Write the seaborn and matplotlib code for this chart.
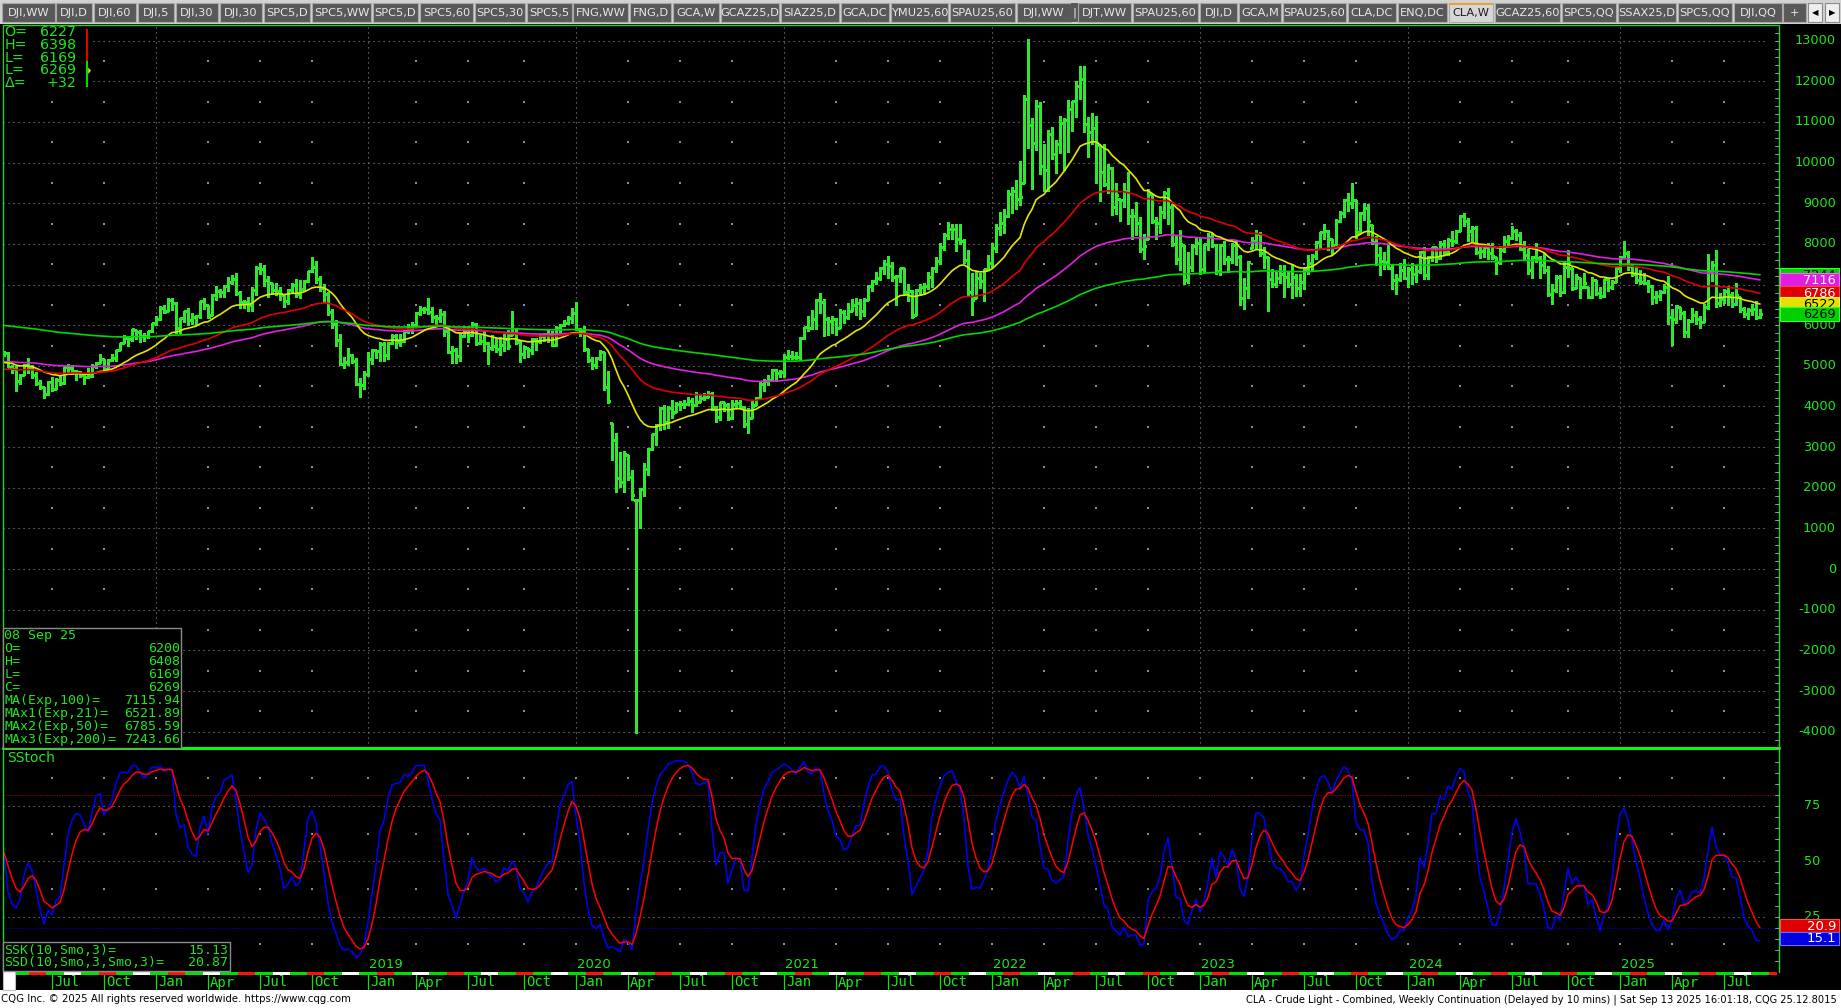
import numpy as np
import pandas as pd
import matplotlib
matplotlib.use("Agg")
import matplotlib.pyplot as plt
from matplotlib.patches import Rectangle, Polygon
import seaborn as sns

# ---------------- data: CLA weekly bars, US cents per barrel ----------------
c17 = [5318,4962,4933,4622,4784,5033,4980,4766,4583,4474,4301,4604,4423,4654,4577,4971,4958,4882,4851,4787,
       4729,4748,4989,5066,5167,4929,5145,5184,5390,5564,5674,5655,5895,5836,5736,5730,5847,6042]
h17 = [5376,5330,5020,4990,4800,5050,5200,5020,4840,4640,4490,4620,4730,4690,4750,4980,5040,5020,4900,4880,
       4790,4940,5050,5100,5290,5170,5160,5280,5390,5570,5770,5720,5900,5890,5880,5800,5860,6050]
l17 = [5250,4960,4820,4376,4550,4770,4820,4700,4520,4420,4205,4290,4380,4420,4540,4560,4840,4800,4650,4720,
       4560,4700,4720,4950,5060,4910,4930,5130,5130,5380,5560,5490,5600,5670,5580,5610,5690,5840]
c18 = [6144,6430,6337,6614,6545,5920,6168,6355,6125,6204,6234,6588,6494,6206,6739,6838,6810,6972,7070,7128,
       6788,6581,6574,6506,6858,7415,7380,7101,7046,6869,6849,6763,6591,6872,6980,6775,6899,7078,7325,7434,
       7134,6912,6759,6314,6019,5646,5042,5093,5261,5120,4559,4533]
h18 = [6220,6480,6490,6660,6660,6570,6180,6360,6420,6300,6250,6600,6660,6500,6760,6960,6900,6990,7190,7230,
       7280,6830,6630,6700,6930,7450,7530,7470,7200,7050,7040,6950,6750,6900,7040,7140,7100,7100,7340,7690,
       7590,7210,7010,6810,6390,6130,5780,5230,5450,5300,5190,4700]
l18 = [6010,6130,6290,6350,6370,5810,5820,6080,6010,6020,6010,6180,6390,6180,6240,6630,6700,6690,6840,7010,
       6740,6420,6420,6360,6360,6740,7260,6960,6700,6770,6750,6620,6440,6520,6780,6690,6660,6830,7060,7300,
       7040,6850,6570,6260,5930,5480,5020,4940,5010,5060,4540,4236]
c19 = [4796,5159,5380,5369,5526,5272,5559,5726,5580,5607,5852,5904,6014,6308,6389,6400,6330,6194,6166,6276,
       5863,5350,5399,5251,5743,5847,5751,6021,5563,5620,5566,5450,5487,5417,5510,5652,5485,5809,5591,5281,
       5470,5378,5666,5620,5724,5772,5777,5517,5920,6007,6044,6172]
h19 = [4880,5330,5420,5400,5580,5580,5580,5780,5790,5790,5890,6040,6070,6320,6480,6440,6660,6440,6260,6390,
       6350,5980,5480,5430,5800,5990,5990,6090,6050,5750,5880,5590,5750,5690,5700,5780,5880,6338,5920,5630,
       5490,5450,5690,5690,5790,5800,5870,5850,5980,6030,6140,6230]
l19 = [4440,4760,5040,5190,5130,5120,5180,5530,5450,5500,5590,5810,5810,6010,6260,6300,6280,6080,6000,6070,
       5730,5310,5060,5070,5130,5720,5580,5730,5520,5540,5360,5050,5390,5340,5270,5360,5420,5750,5540,5099,
       5190,5230,5290,5390,5550,5600,5590,5480,5480,5800,5990,6020]
c20 = [6305,5904,5854,5419,5156,5032,5205,5338,4476,4128,3173,2243,2151,2834,2276,1827,1694,1978,2474,2943,
       3325,3549,3955,3626,3975,3849,4065,4055,4059,4129,4027,4122,4201,4234,4297,3977,3733,4111,4025,3705,
       4060,4088,3985,3579,3714,4013,4215,4553,4626,4657,4910,4823]
h20 = [6420,6565,5930,5970,5420,5220,5230,5400,5330,4870,3600,3350,2890,2910,2810,2440,1700,1990,2600,2970,
       3330,3580,3990,4040,4020,4160,4120,4140,4150,4240,4200,4350,4300,4340,4380,4350,4000,4120,4110,4090,
       4160,4150,4170,4000,3970,4170,4240,4630,4670,4770,4930,4930]
l20 = [6060,5870,5740,5370,5090,4930,4940,5150,4400,4090,2680,1900,2020,1900,2200,1700,-4032,1007,1790,2310,
       2930,3060,3430,3440,3470,3710,3870,3920,3960,4030,3870,4000,4120,4150,4240,3920,3610,3680,3900,3660,
       3700,3960,3960,3490,3360,3720,4030,4200,4390,4520,4620,4620]
c21 = [4852,5224,5236,5227,5220,5685,5947,5924,6150,6609,6561,6142,6097,6145,5932,6313,6214,6358,6490,6537,
       6358,6632,6962,7091,7164,7405,7516,7456,7181,7207,7395,6828,6844,6232,6874,6929,6972,7197,7398,7588,
       7935,8228,8376,8357,8127,8079,7610,6815,6626,7167,7086,7379]
h21 = [4890,5280,5390,5360,5330,5700,5950,6230,6380,6640,6798,6640,6190,6230,6180,6400,6370,6550,6640,6670,
       6640,6670,6980,7100,7299,7420,7600,7698,7550,7240,7400,7400,7010,6870,6900,7010,7030,7310,7420,7670,
       8010,8270,8540,8500,8490,8497,8120,7840,7290,7330,7290,7390]
l21 = [4730,4720,5180,5180,5160,5180,5670,5860,5910,5910,6310,5730,5760,5800,5760,5920,6060,6160,6350,6240,
       6160,6220,6610,6830,7010,7100,7260,7160,7080,6500,7060,6760,6600,6170,6250,6740,6760,6890,6930,7310,
       7510,7840,8110,8110,7830,8000,7530,6740,6243,6680,6920,6600]
c22 = [7521,7890,8382,8514,8682,9231,9310,9107,9159,11568,10933,10470,11390,9927,9826,10695,10207,10469,10977,11049,
       11323,11507,11887,12067,10956,10762,10843,10479,9759,9470,9862,8901,9209,9077,9306,8687,8679,8511,7874,7949,
       9264,8561,8505,8790,9261,8896,8008,7628,7998,7102,7429,7956]
h22 = [7730,8020,8480,8790,8850,9320,9400,9580,10050,11660,13050,11090,11540,11480,10460,10800,10880,10550,11140,11100,
       11550,11510,11998,12370,12370,11110,11230,11150,10440,10450,9970,9900,9490,9100,9510,9760,8850,9030,8670,8250,
       9360,9230,8670,8940,9290,9370,8970,8220,8330,7980,7790,8000]
l22 = [7360,7430,7800,8230,8280,8660,8770,8870,8950,9500,10350,9350,10300,9720,9300,9290,10080,9740,10230,9820,
       10260,10770,11130,11570,10750,10150,10460,9510,9060,9420,9260,8700,8730,8570,8910,8500,8120,8210,7800,7630,
       8130,8510,8130,8260,8630,8490,7940,7510,7360,7010,7030,7330]
c23 = [8026,7377,7986,8164,7968,7339,7972,7634,7632,7968,7668,6674,6926,7567,8070,8252,7787,7678,7134,7004,
       7169,7267,7174,7017,7178,6916,7064,7386,7542,7707,8058,8282,8319,8125,7983,8555,8751,9077,9003,9079,
       8279,8769,8875,8554,8051,7717,7589,7554,7407,7123,7143,7356]
h23 = [8150,8150,8000,8260,8270,7990,8000,8080,7700,8010,8090,7720,7170,7570,8180,8350,8290,7920,7690,7390,
       7320,7470,7470,7330,7510,7260,7270,7400,7730,7750,8060,8300,8490,8340,8110,8610,8810,9110,9240,9503,
       9090,8780,9000,8970,8460,8190,7930,7800,7970,7470,7270,7530]
l23 = [7760,7250,7300,7860,7930,7250,7230,7510,7300,7540,7490,6490,6410,6680,7900,7910,7700,7400,6360,6930,
       6940,7040,6700,6940,6680,6710,6710,6900,7250,7350,7630,7880,8120,7860,7760,7950,8550,8660,8820,8890,
       8150,8290,8580,8210,7990,7490,7240,7380,7380,6890,6770,7090]
c24 = [7165,7381,7268,7341,7801,7228,7684,7919,7649,7997,7801,8104,8063,8317,8691,8566,8314,8385,7811,7826,
       7923,7772,7699,7553,7845,8073,8154,8316,8221,7863,7716,7352,7684,7665,7483,7355,6767,6865,7192,6818,
       7438,7556,6922,7178,6949,7038,6702,7124,6800,6720,7129,6946,7060]
h24 = [7620,7440,7520,7490,7820,7930,7710,7930,7930,8060,8090,8150,8310,8330,8700,8767,8630,8450,8450,7940,
       7960,8010,8020,7690,7940,8200,8220,8440,8360,8300,8070,7880,7700,8020,7700,7770,7450,7010,7240,7240,
       7560,7850,7400,7260,7150,7280,6950,7190,7100,6950,7140,7150,7100]
l24 = [7140,6930,7010,7060,7280,7140,7140,7590,7560,7630,7750,7720,7960,8030,8320,8440,8070,8060,7760,7660,
       7670,7620,7640,7250,7510,7790,7960,8130,8090,7850,7630,7260,7170,7550,7150,7280,6720,6530,6820,6720,
       6790,7180,6870,6920,6680,6910,6680,6680,6740,6660,6700,6850,6890]
c25 = [7396,7657,7788,7466,7253,7100,7074,7040,6976,6704,6718,6828,6936,6199,6150,6468,6302,5829,6102,6249,
       6153,6079,6458,7298,7493,6552,6650,6845,6734,6516,6733,6388,6280,6366,6401,6203,6269]
h25 = [7440,7700,8080,7830,7480,7460,7350,7280,7110,6990,6840,6860,7020,7200,6390,6490,6450,6340,6160,6420,
       6340,6230,6520,7762,7570,7840,6790,6890,6970,6820,7050,6700,6440,6430,6520,6600,6408]
l25 = [7060,7310,7680,7350,7200,7030,7010,7020,6810,6520,6540,6610,6800,6040,5512,6060,6150,5720,5700,6070,
       6040,5940,6080,6410,7090,6440,6470,6540,6500,6460,6490,6320,6190,6150,6250,6150,6169]

last_week = "2025-09-08"
last_open = 6200
ma_periods = [100, 21, 50, 200]            # MA, MAx1, MAx2, MAx3
ma_seed = [5100, 5060, 4900, 6000]         # EMA level just before first bar (read at left edge)
tag_values = [7244, 7116, 6786, 6522, 6269]
stoch_tags = [20.87, 15.13]
quote_box = [("O=", "6227"), ("H=", "6398"), ("L=", "6169"), ("L=", "6269"), ("Δ=", "+32")]
data_box = [("08 Sep 25", ""), ("O=", "6200"), ("H=", "6408"), ("L=", "6169"), ("C=", "6269"),
            ("MA(Exp,100)=", "7115.94"), ("MAx1(Exp,21)=", "6521.89"),
            ("MAx2(Exp,50)=", "6785.59"), ("MAx3(Exp,200)=", "7243.66")]
stoch_box = [("SSK(10,Smo,3)=", "15.13"), ("SSD(10,Smo,3,Smo,3)=", "20.87")]
footer_left = "CQG Inc. © 2025 All rights reserved worldwide. https://www.cqg.com"
footer_right = ("CLA - Crude Light - Combined, Weekly Continuation (Delayed by 10 mins) | "
                "Sat Sep 13 2025 16:01:18, CQG 25.12.8015")

# UI tab strip (label, left px, right px)
tabs = [("DJI,WW",2,55),("DJI,D",56,92),("DJI,60",94,136),("DJI,5",138,174),("DJI,30",176,218),
        ("DJI,30",220,262),("SPC5,D",264,310),("SPC5,WW",312,371),("SPC5,D",373,418),("SPC5,60",420,473),
        ("SPC5,30",475,525),("SPC5,5",527,572),("FNG,WW",573,628),("FNG,D",630,671),("GCA,W",673,719),
        ("GCAZ25,D",721,779),("SIAZ25,D",781,839),("GCA,DC",841,889),("YMU25,60",891,948),
        ("SPAU25,60",950,1015),("DJI,WW",1017,1071),("DJT,WW",1078,1131),("SPAU25,60",1133,1198),
        ("DJI,D",1200,1237),("GCA,M",1239,1281),("SPAU25,60",1283,1346),("CLA,DC",1348,1396),
        ("ENQ,DC",1398,1447),("CLA,W",1449,1493),("GCAZ25,60",1495,1560),("SPC5,QQ",1562,1616),
        ("SSAX25,D",1618,1676),("SPC5,QQ",1678,1732),("DJI,QQ",1734,1782),("+",1783,1806)]
active_tab = "CLA,W"

# ---------------- frame ----------------
closes = np.array(c17 + c18 + c19 + c20 + c21 + c22 + c23 + c24 + c25, float)
highs = np.array(h17 + h18 + h19 + h20 + h21 + h22 + h23 + h24 + h25, float)
lows = np.array(l17 + l18 + l19 + l20 + l21 + l22 + l23 + l24 + l25, float)
n = len(closes)
dates = pd.date_range(end=last_week, periods=n, freq="W-MON")
opens = np.r_[closes[0], closes[:-1]]
opens[-1] = last_open
opens = np.clip(opens, lows, highs)

REF = pd.Timestamp("2018-01-01")
df = pd.DataFrame({"date": dates, "open": opens, "high": highs, "low": lows, "close": closes})
df["wk"] = (df["date"] - REF).dt.days / 7.0


def ema(vals, period, seed):
    a = 2.0 / (period + 1)
    out, e = [], seed
    for v in vals:
        e = e + a * (v - e)
        out.append(e)
    return np.array(out)


ma_names = []
for p, s in zip(ma_periods, ma_seed):
    nm = f"ema{p}"
    df[nm] = ema(df["close"].values, p, s)
    ma_names.append(nm)

hh = df["high"].rolling(10, min_periods=1).max()
ll = df["low"].rolling(10, min_periods=1).min()
raw = 100 * (df["close"] - ll) / (hh - ll)
df["ssk"] = raw.ewm(alpha=1 / 3, adjust=False).mean()
df["ssd"] = df["ssk"].ewm(alpha=1 / 3, adjust=False).mean()

# ---------------- styling ----------------
sns.set_style("dark", {"axes.facecolor": "black", "figure.facecolor": "black"})
plt.rcParams["font.family"] = ["DejaVu Sans"]

GTXT = "#1ee61e"
BAR = "#2aea2a"
GRID = "#8c8c8c"
MA_COL = {"ema100": "#e41ee4", "ema21": "#e6e600", "ema50": "#e00000", "ema200": "#00d800"}

W, H = 1841, 1008
fig = plt.figure(figsize=(W / 100, H / 100), dpi=100)
fig.patch.set_facecolor("black")

L_PX, R_PX = 3, 1779
MAIN_T, MAIN_B = 25, 748
ST_T, ST_B = 750.5, 972
X0_PX, PX_WK = 156, 4.0
Y_TOP, Y_BOT = 13385, -4401

ax = fig.add_axes([L_PX / W, 1 - MAIN_B / H, (R_PX - L_PX) / W, (MAIN_B - MAIN_T) / H])
st = fig.add_axes([L_PX / W, 1 - ST_B / H, (R_PX - L_PX) / W, (ST_B - ST_T) / H])
xl = ((L_PX - X0_PX) / PX_WK, (R_PX - X0_PX) / PX_WK)


def px_of_date(d):
    return X0_PX + PX_WK * (pd.Timestamp(d) - REF).days / 7.0


def py_main(v):
    return MAIN_T + (Y_TOP - np.asarray(v, float)) / (Y_TOP - Y_BOT) * (MAIN_B - MAIN_T)


def py_st(v):
    return ST_B - np.asarray(v, float) / 100.0 * (ST_B - ST_T)


# first Monday of each quarter month
qmonths = pd.date_range("2017-07-01", "2025-07-01", freq="QS-JAN")
qmondays = [d + pd.Timedelta(days=(7 - d.weekday()) % 7) for d in qmonths]
q_wk = np.array([(d - REF).days / 7.0 for d in qmondays])
is_jan = np.array([d.month == 1 for d in qmondays])

# ---- main panel ----
dots = (0, (1, 3.5))
ax.hlines(np.arange(-4000, 13001, 1000), xl[0], xl[1] - 2.8, colors=GRID, linestyles=dots, lw=0.8, zorder=1)
ax.vlines(q_wk[is_jan], Y_BOT, Y_TOP, colors=GRID, linestyles=dots, lw=0.8, zorder=1)
qx = q_wk[~is_jan]
hv = np.arange(-3500, 13001, 1000)
QX, HV = np.meshgrid(qx, hv)
ax.scatter(QX.ravel(), HV.ravel(), s=0.6, marker="s", color=GRID, linewidths=0, zorder=1)

ax.vlines(df["wk"], df["low"], df["high"], colors=BAR, lw=0.8, antialiased=False, zorder=3)
ax.hlines(df["open"], df["wk"] - 0.45, df["wk"], colors=BAR, lw=0.8, antialiased=False, zorder=3)
ax.hlines(df["close"], df["wk"], df["wk"] + 0.45, colors=BAR, lw=0.8, antialiased=False, zorder=3)

for nm in ma_names:
    sns.lineplot(data=df, x="wk", y=nm, ax=ax, color=MA_COL[nm], lw=1.2,
                 estimator=None, sort=False, legend=False, zorder=4)
ax.set_xlim(*xl)
ax.set_ylim(Y_BOT, Y_TOP)
ax.axis("off")

# ---- stochastic panel ----
st.hlines([25, 50, 75], xl[0], xl[1] - 2.8, colors=GRID, linestyles=dots, lw=0.8, zorder=1)
st.hlines([80], xl[0], xl[1], colors="#b00000", linestyles=(0, (1, 1.5)), lw=0.7, zorder=1)
st.hlines([20], xl[0], xl[1], colors="#0000d0", linestyles=(0, (1, 1.5)), lw=0.7, zorder=1)
QX2, HV2 = np.meshgrid(q_wk, [12.5, 37.5, 62.5, 87.5])
st.scatter(QX2.ravel(), HV2.ravel(), s=0.6, marker="s", color=GRID, linewidths=0, zorder=1)
sns.lineplot(data=df, x="wk", y="ssk", ax=st, color="#0000ff", lw=1.1, estimator=None, sort=False, legend=False, zorder=3)
sns.lineplot(data=df, x="wk", y="ssd", ax=st, color="#ff0000", lw=1.1, estimator=None, sort=False, legend=False, zorder=4)
st.set_xlim(*xl)
st.set_ylim(0, 100)
st.axis("off")

# ---------------- overlay (pixel coordinates) ----------------
ov = fig.add_axes([0, 0, 1, 1], zorder=10)
ov.set_xlim(0, W)
ov.set_ylim(H, 0)
ov.axis("off")
ov.patch.set_alpha(0)

LINE_G = "#10e010"
ov.plot([L_PX, R_PX], [MAIN_T, MAIN_T], color=LINE_G, lw=1.0)
ov.plot([L_PX, L_PX], [MAIN_T, ST_B], color=LINE_G, lw=1.0)
ov.plot([R_PX, R_PX], [MAIN_T, ST_B], color=LINE_G, lw=1.0)
ov.plot([L_PX, R_PX], [MAIN_B, MAIN_B], color="#00ff00", lw=2.2)

# axis minor ticks
for v in np.arange(-4400, 13400, 200):
    y = float(py_main(v))
    ov.plot([R_PX - 3.5, R_PX], [y, y], color="#9a9a9a", lw=0.7)
for v in np.arange(5, 100, 5):
    y = float(py_st(v))
    ov.plot([R_PX - 3.5, R_PX], [y, y], color="#9a9a9a", lw=0.7)

# right axis labels
for v in range(-4000, 13001, 1000):
    ov.text(1836, float(py_main(v)), f"{v}", ha="right", va="center", color=GTXT, fontsize=9.3, zorder=3)
for v in (75, 50, 25):
    ov.text(1820, float(py_st(v)), f"{v}", ha="right", va="center", color=GTXT, fontsize=9.3, zorder=3)

# price tags (stacked like the reference; later tags sit on top)
tag_style = [("#00d000", "#30ff30", "black"), ("#e01ee0", "#ff60ff", "white"),
             ("#e00000", "#ff4040", "white"), ("#e6e000", "#fff040", "black"), ("#00d000", "#30ff30", "black")]
for i, (val, (fc, ec, tc)) in enumerate(zip(tag_values, tag_style)):
    y = float(py_main(val))
    z = 6 + 2 * i
    ov.add_patch(Rectangle((1780, y - 6.8), 59, 13.6, facecolor=fc, edgecolor=ec, lw=0.8, zorder=z))
    ov.text(1836, y + 0.5, f"{val}", ha="right", va="center", color=tc, fontsize=9.3, zorder=z + 1)
for val, (fc, ec) in zip(stoch_tags, [("#e00000", "#ff5050"), ("#0000e0", "#6a6aff")]):
    y = float(py_st(val))
    ov.add_patch(Rectangle((1780, y - 6.5), 59, 13, facecolor=fc, edgecolor=ec, lw=0.8, zorder=6))
    ov.text(1836, y + 0.5, f"{val:.1f}", ha="right", va="center", color="white", fontsize=9.5, zorder=7)

# time strip + month labels
ov.add_patch(Rectangle((15, 971.5), R_PX - 2 - 15, 3, facecolor="#00e000", edgecolor="none", zorder=2))
for k in range(-1, 27):
    xr = 29 + 69.6 * k
    for x0, colr in ((xr, "#ff1010"), (xr + 34.8, "white")):
        if 15 <= x0 < R_PX - 2:
            ov.add_patch(Rectangle((x0, 971.5), min(17, R_PX - 2 - x0), 3, facecolor=colr,
                                   edgecolor="none", zorder=3))
ov.add_patch(Rectangle((3, 971), 12, 19, facecolor="white", edgecolor="#bdbdbd", lw=0.8, zorder=3))
SBOX_R = 230
for d in qmondays:
    x = px_of_date(d)
    ov.plot([x, x], [975, 989], color=LINE_G, lw=0.9)
    ov.text(x + 2, 982.5, d.strftime("%b"), ha="left", va="center", color=GTXT,
            fontsize=10, family="DejaVu Sans Mono", zorder=3)
    if d.month == 1 and x > SBOX_R:   # the year under the stochastic value box is hidden
        ov.text(x + 1, 964, str(d.year), ha="left", va="center", color=GTXT, fontsize=9.5, zorder=3)

# SStoch label
ov.text(7, 758, "SStoch", ha="left", va="center", color=GTXT, fontsize=10, zorder=3)

# bottom-left data box
ov.add_patch(Rectangle((3, 628.3), 178, 120, facecolor="black", edgecolor="#8a8a8a", lw=1.0, zorder=5))
for i, (lab, val) in enumerate(data_box):
    y = 635.7 + i * 12.95
    ov.text(4.5, y, lab, ha="left", va="center", color=GTXT, fontsize=9.5, family="DejaVu Sans Mono", zorder=6)
    if val:
        ov.text(180, y, val, ha="right", va="center", color=GTXT, fontsize=9.5, family="DejaVu Sans Mono", zorder=6)

# stochastic value box
ov.add_patch(Rectangle((3, 942.3), SBOX_R - 3, 28.4, facecolor="black", edgecolor="#8a8a8a", lw=1.0, zorder=5))
for i, (lab, val) in enumerate(stoch_box):
    y = 950 + i * 12.5
    ov.text(4.5, y, lab, ha="left", va="center", color=GTXT, fontsize=9.5, family="DejaVu Sans Mono", zorder=6)
    ov.text(228, y, val, ha="right", va="center", color=GTXT, fontsize=9.5, family="DejaVu Sans Mono", zorder=6)

# top-left quote box
ov.add_patch(Rectangle((4, 26.5), 88, 63, facecolor="black", edgecolor="none", zorder=5))
for i, (lab, val) in enumerate(quote_box):
    y = 31.7 + i * 12.9
    ov.text(4.5, y, lab, ha="left", va="center", color=GTXT, fontsize=10.3, zorder=6)
    ov.text(76, y, val, ha="right", va="center", color=GTXT, fontsize=10.3, zorder=6)
ov.add_patch(Rectangle((86, 29), 2.2, 32, facecolor="#e00000", edgecolor="none", zorder=6))
ov.add_patch(Rectangle((86, 61), 2.2, 26, facecolor="#00e000", edgecolor="none", zorder=6))
ov.add_patch(Polygon([[88.2, 67.5], [88.2, 74], [91, 70.7]], closed=True, facecolor="#e6e600",
                     edgecolor="none", zorder=7))

# tab bar
ov.add_patch(Rectangle((0, 0), W, 24, facecolor="#d2d2d2", edgecolor="none", zorder=1))
for lab, x0, x1 in tabs:
    act = lab == active_tab
    ov.add_patch(Rectangle((x0, 3), x1 - x0, 19, facecolor="#d6d6d6" if act else "#585858",
                           edgecolor="#a8a8a8", lw=0.8, zorder=2))
    if act:
        ov.add_patch(Rectangle((x0, 2.5), x1 - x0, 2, facecolor="#f0a030", edgecolor="none", zorder=3))
    ov.text((x0 + x1) / 2, 12.8, lab, ha="center", va="center", fontsize=8.2,
            color="#202020" if act else "#e8e8e8", zorder=4)
ov.add_patch(Rectangle((1071, 3), 7, 19, facecolor="#585858", edgecolor="none", zorder=2))
ov.text(1074.5, 12.5, "|", ha="center", va="center", fontsize=8.2, color="#e8e8e8", zorder=4)
for x0, x1, s in ((1808, 1822, "◀"), (1825, 1839, "▶")):
    ov.add_patch(Rectangle((x0, 3), x1 - x0, 19, facecolor="#eeeeee", edgecolor="#8a8a8a", lw=0.8, zorder=2))
    ov.text((x0 + x1) / 2, 12.8, s, ha="center", va="center", fontsize=6, color="black", zorder=4)

# footer
ov.add_patch(Rectangle((0, 990), W, 18, facecolor="white", edgecolor="none", zorder=2))
renderer = fig.canvas.get_renderer()


def fit_text(x, y, s, width, ha):
    t = ov.text(x, y, s, ha=ha, va="center", color="black", fontsize=8, zorder=3)
    wpx = t.get_window_extent(renderer=renderer).width
    t.set_fontsize(8 * width / wpx)
    return t


fit_text(1, 999.5, footer_left, 352, "left")
fit_text(1837, 999.5, footer_right, 590, "right")

fig.savefig("out.png", dpi=100, facecolor="black")
